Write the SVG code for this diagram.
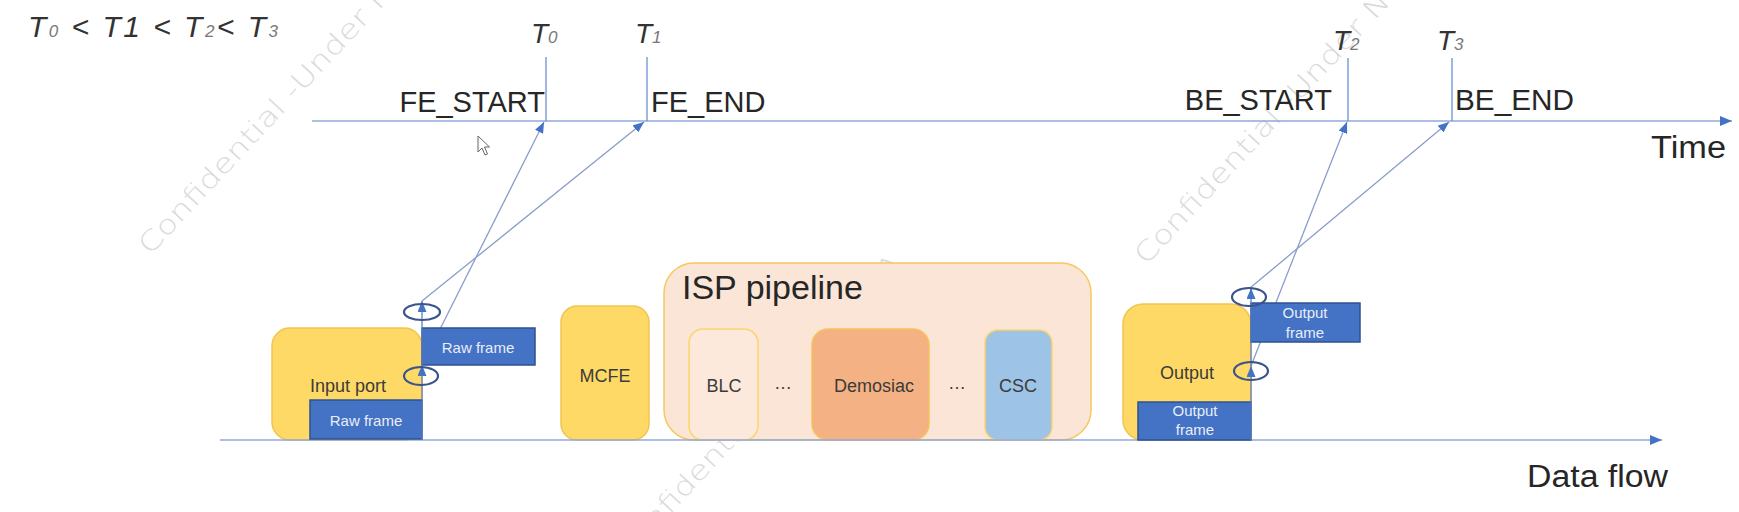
<svg xmlns="http://www.w3.org/2000/svg" width="1739" height="512" viewBox="0 0 1739 512">
<style>
.t{font-family:"Liberation Sans",Arial,sans-serif;fill:#262626}
.it{font-family:"Liberation Sans",Arial,sans-serif;font-style:italic;fill:#333}
.sub{font-size:17px;fill:#777}
.lbl{font-family:"Liberation Sans",Arial,sans-serif;font-size:18px;fill:#3b3b3b;text-anchor:middle}
.fr{font-family:"Liberation Sans",Arial,sans-serif;font-size:15px;fill:#e9eef8;text-anchor:middle}
.wm{font-family:"DejaVu Sans","Liberation Sans",sans-serif;font-weight:200;font-size:27px;fill:#dadada}
.yel{fill:#ffd966;stroke:#f3c44f;stroke-width:1.5}
.blue{fill:#4472c4;stroke:#2f528f;stroke-width:1.5}
.axis{stroke:#8fa8da;stroke-width:1.5;fill:none}
.tick{stroke:#6e8fd0;stroke-width:1.3;fill:none}
.diag{stroke:#8a9dcb;stroke-width:1.3;fill:none}
.vert{stroke:#5b7fc8;stroke-width:1.3;fill:none}
.ring{fill:none;stroke:#3b5489;stroke-width:2.2}
</style>
<defs>
<marker id="big" markerUnits="userSpaceOnUse" markerWidth="12" markerHeight="10" refX="12" refY="5" orient="auto"><path d="M0,0 L12,5 L0,10 z" fill="#4472c4"/></marker>
<marker id="sm" markerUnits="userSpaceOnUse" markerWidth="11" markerHeight="9" refX="11" refY="4.5" orient="auto"><path d="M0,0 L11,4.5 L0,9 z" fill="#4472c4"/></marker>
</defs>
<rect width="1739" height="512" fill="#ffffff"/>
<g id="watermarks">
<text class="wm" transform="translate(150,256) rotate(-47)" textLength="408" lengthAdjust="spacingAndGlyphs">Confidential -Under NDA</text>
<text class="wm" transform="translate(1146,266) rotate(-47)" textLength="408" lengthAdjust="spacingAndGlyphs">Confidential -Under NDA</text>
<text class="wm" transform="translate(625,563) rotate(-47)" textLength="408" lengthAdjust="spacingAndGlyphs">Confidential -Under NDA</text>
</g>
<g id="legend">
<text class="it" x="28" y="37" font-size="30" textLength="250" lengthAdjust="spacing">T<tspan class="sub">0</tspan> &lt; T1 &lt; T<tspan class="sub">2</tspan>&lt; T<tspan class="sub">3</tspan></text>
</g>
<g id="time-labels">
<text class="it" x="531" y="43" font-size="28">T<tspan class="sub">0</tspan></text>
<text class="it" x="635" y="43" font-size="28">T<tspan class="sub">1</tspan></text>
<text class="it" x="1333" y="50" font-size="28">T<tspan class="sub">2</tspan></text>
<text class="it" x="1437" y="50" font-size="28">T<tspan class="sub">3</tspan></text>
<text class="t" x="545" y="112" font-size="29" text-anchor="end">FE_START</text>
<text class="t" x="651" y="112" font-size="29">FE_END</text>
<text class="t" x="1332" y="110" font-size="29" text-anchor="end">BE_START</text>
<text class="t" x="1455" y="110" font-size="29" textLength="119" lengthAdjust="spacingAndGlyphs">BE_END</text>
<text class="t" x="1651" y="158" font-size="31" textLength="75" lengthAdjust="spacingAndGlyphs">Time</text>
<text class="t" x="1527" y="487" font-size="31" textLength="141" lengthAdjust="spacingAndGlyphs">Data flow</text>
</g>
<g id="isp-pipeline">
<rect x="664" y="263" width="427" height="177" rx="30" fill="#fbe5d6" stroke="#f6c85f" stroke-width="1.5"/>
<text class="t" x="682" y="299" font-size="34">ISP pipeline</text>
</g>
<g id="blc"><rect x="689" y="329" width="69" height="111" rx="14" fill="#fde8dc" stroke="#fcd56b" stroke-width="1.5"/><text class="lbl" x="724" y="392">BLC</text></g>
<g id="dots1"><text class="lbl" x="783" y="389">…</text></g>
<g id="demosiac"><rect x="812" y="329" width="117" height="111" rx="16" fill="#f4b183" stroke="#f8c25a" stroke-width="1.5"/><text class="lbl" x="874" y="392">Demosiac</text></g>
<g id="dots2"><text class="lbl" x="957" y="389">…</text></g>
<g id="csc"><rect x="985" y="330" width="67" height="110" rx="13" fill="#9dc3e6" stroke="#fcd56b" stroke-width="1.5"/><text class="lbl" x="1018" y="392">CSC</text></g>
<g id="input-port"><rect class="yel" x="272" y="328" width="150" height="112" rx="18"/><text class="lbl" x="348" y="392">Input port</text></g>
<g id="mcfe"><rect class="yel" x="561" y="306" width="88" height="134" rx="16"/><text class="lbl" x="605" y="382">MCFE</text></g>
<g id="output"><rect class="yel" x="1123" y="304" width="128" height="136" rx="20"/><text class="lbl" x="1187" y="379">Output</text></g>
<g id="connectors">
<line class="axis" x1="312" y1="121" x2="1732" y2="121" marker-end="url(#big)"/>
<line class="axis" x1="220" y1="440" x2="1662" y2="440" marker-end="url(#big)"/>
<line class="tick" x1="546" y1="57" x2="546" y2="121"/>
<line class="tick" x1="647" y1="57" x2="647" y2="121"/>
<line class="tick" x1="1348" y1="58" x2="1348" y2="121"/>
<line class="tick" x1="1452" y1="58" x2="1452" y2="121"/>
<line class="diag" x1="422" y1="365" x2="544" y2="122" marker-end="url(#sm)"/>
<line class="diag" x1="422" y1="301" x2="644" y2="122" marker-end="url(#sm)"/>
<line class="diag" x1="1251" y1="366" x2="1347" y2="122" marker-end="url(#sm)"/>
<line class="diag" x1="1250" y1="288" x2="1449" y2="122" marker-end="url(#sm)"/>
</g>
<g id="raw-frame-in"><rect class="blue" x="310" y="400" width="112" height="39"/><text class="fr" x="366" y="426">Raw frame</text></g>
<g id="raw-frame-out"><rect class="blue" x="422" y="328" width="113" height="37"/><text class="fr" x="478" y="353">Raw frame</text></g>
<g id="output-frame-in"><rect class="blue" x="1138" y="402" width="113" height="38"/><text class="fr" x="1195" y="416">Output</text><text class="fr" x="1195" y="435">frame</text></g>
<g id="output-frame-out"><rect class="blue" x="1251" y="303" width="109" height="39"/><text class="fr" x="1305" y="318">Output</text><text class="fr" x="1305" y="338">frame</text></g>
<g id="events">
<line class="vert" x1="422" y1="440" x2="422" y2="365" marker-end="url(#sm)"/>
<line class="vert" x1="422" y1="365" x2="422" y2="301" marker-end="url(#sm)"/>
<line class="vert" x1="1251" y1="440" x2="1251" y2="366" marker-end="url(#sm)"/>
<line class="vert" x1="1251" y1="366" x2="1251" y2="288" marker-end="url(#sm)"/>
<ellipse class="ring" cx="422" cy="312" rx="18" ry="8"/>
<ellipse class="ring" cx="421" cy="376" rx="17" ry="9"/>
<ellipse class="ring" cx="1249" cy="297" rx="17" ry="9"/>
<ellipse class="ring" cx="1251" cy="371" rx="17" ry="9"/>
</g>
<g id="cursor"><path d="M478,136 L478,152 L482,148 L485,155 L487.5,154 L484.5,147 L489.5,147 Z" fill="#ffffff" stroke="#666" stroke-width="1"/></g>
</svg>
